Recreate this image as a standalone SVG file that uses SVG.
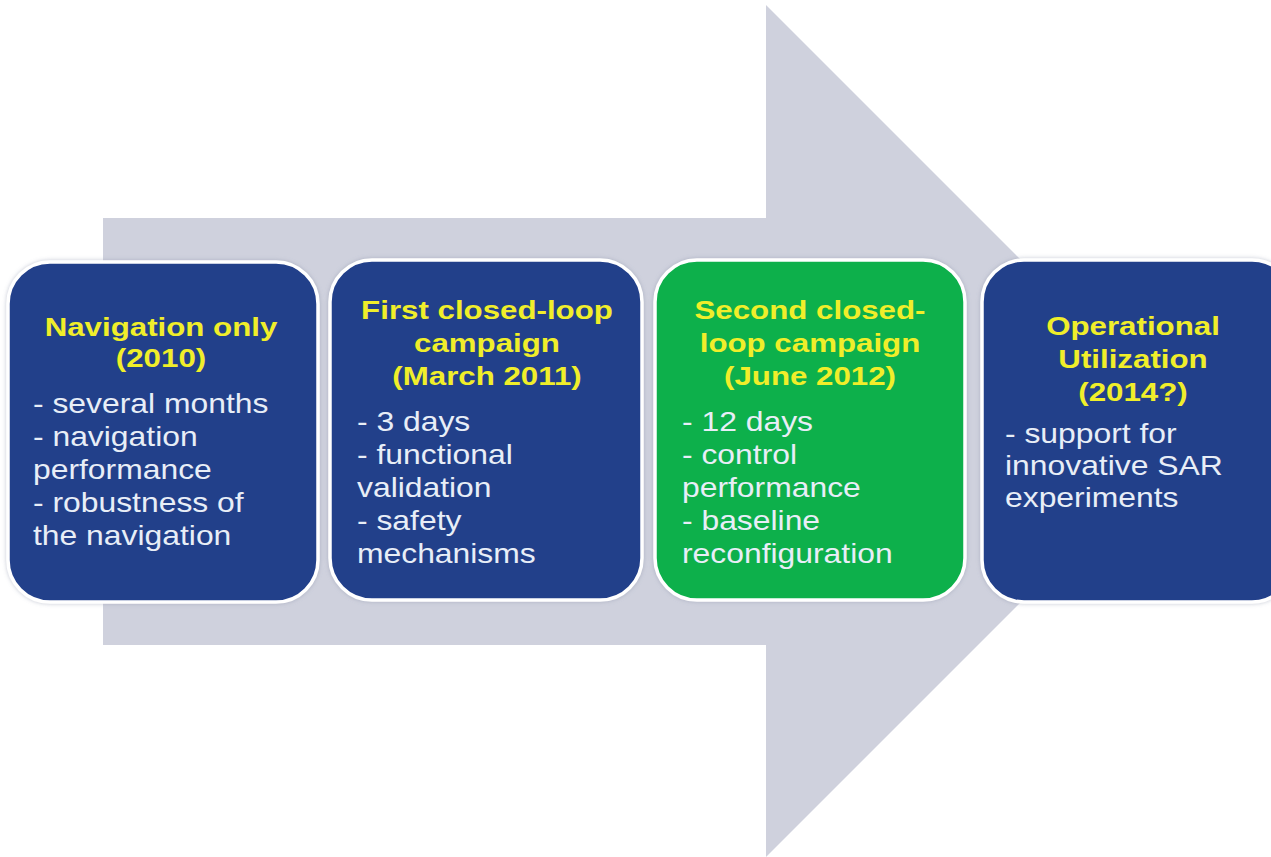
<svg xmlns="http://www.w3.org/2000/svg" width="1271" height="857" viewBox="0 0 1271 857">
<style>
.box{stroke:#ffffff;stroke-width:3.5}
.blue{fill:#223f8a}
.green{fill:#0bb04b}
.title{font-family:"Liberation Sans",Arial,sans-serif;font-weight:bold;font-size:26.5px;fill:#f0ee2a;text-anchor:middle}
.body{font-family:"Liberation Sans",Arial,sans-serif;font-size:27px;fill:#e8eef7}
</style>
<defs>
<filter id="sh" x="-10%" y="-10%" width="120%" height="120%">
<feGaussianBlur in="SourceAlpha" stdDeviation="2"/>
<feOffset dx="0" dy="0" result="b"/>
<feFlood flood-color="#8890a8" flood-opacity="0.5"/>
<feComposite in2="b" operator="in"/>
<feMerge><feMergeNode/><feMergeNode in="SourceGraphic"/></feMerge>
</filter>
</defs>
<rect width="1271" height="857" fill="#ffffff"/>
<g id="arrow">
<polygon points="103,218 766,218 766,5 1192,431 766,857 766,645 103,645" fill="#cfd1dd"/>
</g>
<g id="connectors"></g>
<g id="node1">
<rect class="box blue" x="8" y="262" width="310" height="340" rx="42" filter="url(#sh)"/>
<text class="title" transform="translate(161,336) scale(1.18,1)"><tspan x="0" y="0">Navigation only</tspan><tspan x="0" y="31">(2010)</tspan></text>
<text class="body" transform="translate(33,413) scale(1.18,1)"><tspan x="0" y="0">- several months</tspan><tspan x="0" y="33">- navigation</tspan><tspan x="0" y="66">performance</tspan><tspan x="0" y="99">- robustness of</tspan><tspan x="0" y="132">the navigation</tspan></text>
</g>
<g id="node2">
<rect class="box blue" x="330" y="260" width="312" height="340" rx="42" filter="url(#sh)"/>
<text class="title" transform="translate(487,319) scale(1.18,1)"><tspan x="0" y="0">First closed-loop</tspan><tspan x="0" y="33">campaign</tspan><tspan x="0" y="66">(March 2011)</tspan></text>
<text class="body" transform="translate(357,431) scale(1.18,1)"><tspan x="0" y="0">- 3 days</tspan><tspan x="0" y="33">- functional</tspan><tspan x="0" y="66">validation</tspan><tspan x="0" y="99">- safety</tspan><tspan x="0" y="132">mechanisms</tspan></text>
</g>
<g id="node3">
<rect class="box green" x="655" y="260" width="310" height="340" rx="42" filter="url(#sh)"/>
<text class="title" transform="translate(810,319) scale(1.18,1)"><tspan x="0" y="0">Second closed-</tspan><tspan x="0" y="33">loop campaign</tspan><tspan x="0" y="66">(June 2012)</tspan></text>
<text class="body" transform="translate(682,431) scale(1.18,1)"><tspan x="0" y="0">- 12 days</tspan><tspan x="0" y="33">- control</tspan><tspan x="0" y="66">performance</tspan><tspan x="0" y="99">- baseline</tspan><tspan x="0" y="132">reconfiguration</tspan></text>
</g>
<g id="node4">
<rect class="box blue" x="982" y="260" width="312" height="342" rx="42" filter="url(#sh)"/>
<text class="title" transform="translate(1133,335) scale(1.18,1)"><tspan x="0" y="0">Operational</tspan><tspan x="0" y="33">Utilization</tspan><tspan x="0" y="66">(2014?)</tspan></text>
<text class="body" transform="translate(1005,443) scale(1.18,1)"><tspan x="0" y="0">- support for</tspan><tspan x="0" y="32">innovative SAR</tspan><tspan x="0" y="64">experiments</tspan></text>
</g>
</svg>
